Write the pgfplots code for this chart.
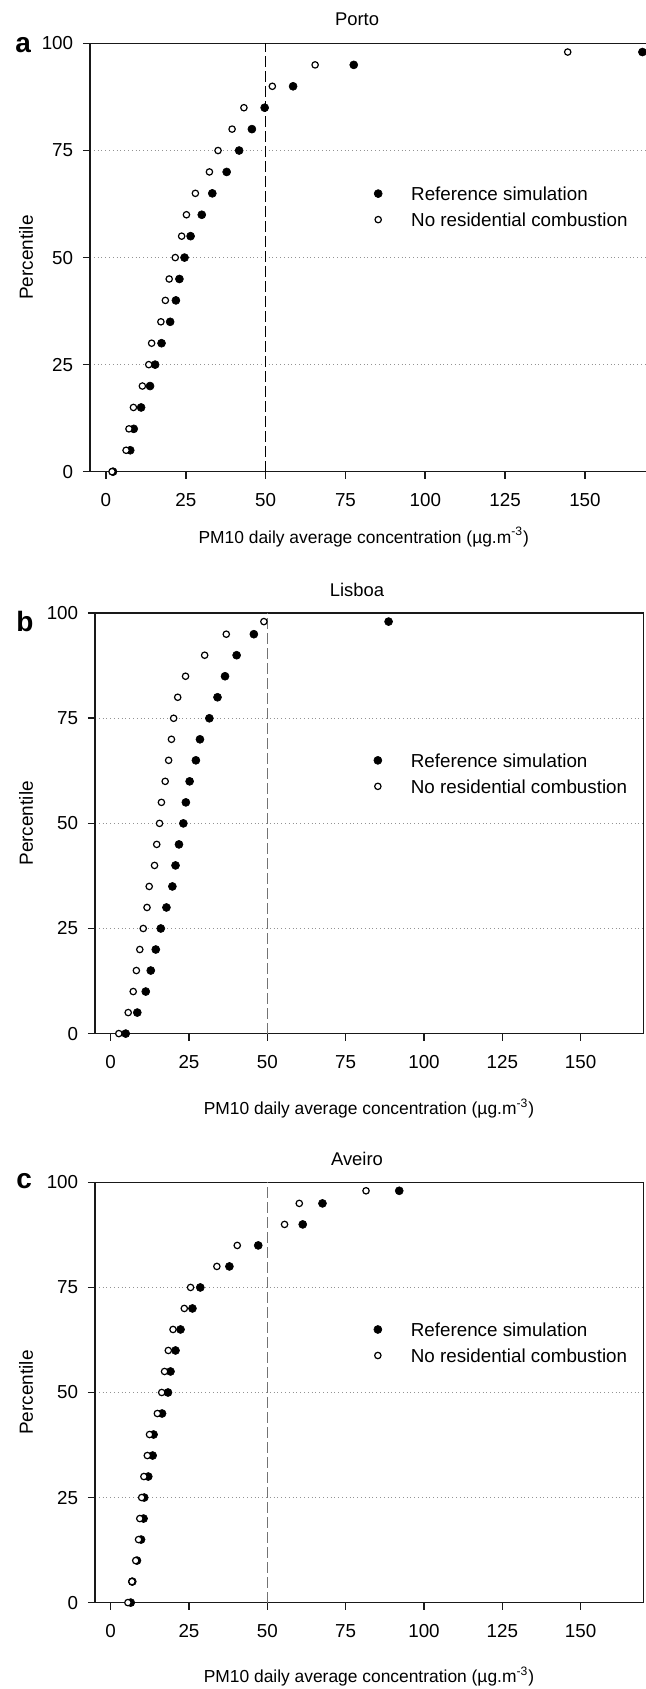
\documentclass[border=0pt]{standalone}
\usepackage{fontspec}
\setmainfont{Liberation Sans}
\usepackage{pgfplots}
\usepackage{pgfplotstable}
\pgfplotsset{compat=1.18}

% percentile, reference simulation, no residential combustion
\pgfplotstableread{
p ref no
0 2.2 1.9
5 7.6 6.3
10 8.7 7.2
15 11.0 8.6
20 13.8 11.4
25 15.4 13.4
30 17.4 14.3
35 20.1 17.2
40 21.9 18.6
45 23.0 19.8
50 24.6 21.7
55 26.5 23.7
60 30.0 25.2
65 33.3 28.0
70 37.8 32.4
75 41.7 35.1
80 45.7 39.5
85 49.7 43.2
90 58.6 52.1
95 77.6 65.5
98 168.0 144.6
}\porto

\pgfplotstableread{
p ref no
0 4.8 2.6
5 8.5 5.6
10 11.2 7.2
15 12.8 8.2
20 14.4 9.3
25 16.0 10.4
30 17.8 11.6
35 19.7 12.3
40 20.7 14.0
45 21.8 14.7
50 23.2 15.6
55 24.0 16.2
60 25.2 17.4
65 27.2 18.5
70 28.5 19.4
75 31.5 20.1
80 34.1 21.4
85 36.5 23.9
90 40.2 30.0
95 45.7 36.9
98 88.7 48.9
}\lisboa

\pgfplotstableread{
p ref no
0 6.4 5.5
5 6.9 6.8
10 8.4 8.0
15 9.7 8.9
20 10.5 9.3
25 10.7 9.9
30 12.0 10.6
35 13.4 11.7
40 13.7 12.4
45 16.4 14.9
50 18.3 16.3
55 19.1 17.2
60 20.7 18.4
65 22.3 19.9
70 26.1 23.5
75 28.6 25.5
80 37.9 33.9
85 47.1 40.4
90 61.3 55.5
95 67.6 60.2
98 92.1 81.5
}\aveiro

\newcommand{\tickfont}{\fontsize{9.4}{11}\selectfont}

\pgfplotsset{
  pct/.style={
    scale only axis,
    xmin=-5, xmax=170, ymin=0, ymax=100,
    xtick={0,25,50,75,100,125,150},
    ytick={0,25,50,75,100},
    tick align=outside, tick pos=left,
    major tick length=3.5pt,
    axis line style={line width=0.8pt, black!90},
    every tick/.style={line width=0.8pt, black!90},
    ymajorgrids,
    grid style={gray!85, line width=0.5pt, dash pattern=on 0.5pt off 1.4pt},
    /pgf/number format/assume math mode=true,
    tick label style={font=\tickfont},
    xticklabel style={yshift=-3.9pt},
    yticklabel style={xshift=-1.4pt},
    legend style={draw=none, fill=none, inner sep=0pt, outer sep=0pt,
      row sep=6pt, column sep=0pt, font=\tickfont,
      cells={anchor=west},
      nodes={inner sep=0pt, text height=7pt, text depth=0pt}},
    legend cell align=left,
    legend image code/.code={%
      \path[draw=none, fill=none] (-2pt,-2pt) rectangle (16.5pt,2pt);
      \draw[##1] plot coordinates {(0pt,0pt)};},
  },
  refp/.style={only marks, mark=*, mark size=2pt,
    mark options={fill=black, draw=black, line width=0.3pt}},
  nop/.style={only marks, mark=*, mark size=1.6pt,
    mark options={fill=white, draw=black, line width=0.6pt}},
}

\begin{document}
\begin{tikzpicture}
\useasboundingbox (0pt,0pt) rectangle (323pt,844.5pt);

% ---- a: Porto
\begin{axis}[pct, at={(45pt,608.65pt)}, anchor=south west,
  width=279.4pt, height=214.1pt,
  legend style={at={(axis cs:84,61.9)}, anchor=west}]
  \addplot[forget plot, black, line width=0.6pt, dash pattern=on 5.5pt off 2pt]
    coordinates {(50,0) (50,100)};
  \addplot[refp] table[x=ref, y=p] {\porto};
  \addplot[nop] table[x=no, y=p] {\porto};
  \legend{Reference simulation, No residential combustion}
\end{axis}

% ---- b: Lisboa
\begin{axis}[pct, at={(47.5pt,327.7pt)}, anchor=south west,
  width=274.15pt, height=210.2pt,
  legend style={at={(axis cs:84,61.9)}, anchor=west}]
  \addplot[forget plot, black!55, line width=0.6pt, dash pattern=on 5.5pt off 2pt]
    coordinates {(50,0) (50,100)};
  \addplot[refp] table[x=ref, y=p] {\lisboa};
  \addplot[nop] table[x=no, y=p] {\lisboa};
  \legend{Reference simulation, No residential combustion}
\end{axis}

% ---- c: Aveiro
\begin{axis}[pct, at={(47.5pt,43.2pt)}, anchor=south west,
  width=274.15pt, height=210.1pt,
  legend style={at={(axis cs:84,61.9)}, anchor=west}]
  \addplot[forget plot, black!55, line width=0.6pt, dash pattern=on 5.5pt off 2pt]
    coordinates {(50,0) (50,100)};
  \addplot[refp] table[x=ref, y=p] {\aveiro};
  \addplot[nop] table[x=no, y=p] {\aveiro};
  \legend{Reference simulation, No residential combustion}
\end{axis}

% titles, labels, panel letters
\begin{scope}[every node/.style={inner sep=0pt}]
  \node[anchor=base, font=\fontsize{9.2}{11}\selectfont] at (178.5pt,831.5pt) {Porto};
  \node[anchor=base, font=\fontsize{9.2}{11}\selectfont] at (178.5pt,546pt) {Lisboa};
  \node[anchor=base, font=\fontsize{9.2}{11}\selectfont] at (178.5pt,261.8pt) {Aveiro};

  \node[anchor=base, font=\fontsize{8.7}{11}\selectfont] at (181.9pt,572.85pt)
    {PM10 daily average concentration (µg.m\textsuperscript{-3})};
  \node[anchor=base, font=\fontsize{8.7}{11}\selectfont] at (184.5pt,287pt)
    {PM10 daily average concentration (µg.m\textsuperscript{-3})};
  \node[anchor=base, font=\fontsize{8.7}{11}\selectfont] at (184.5pt,3pt)
    {PM10 daily average concentration (µg.m\textsuperscript{-3})};

  \node[rotate=90, font=\fontsize{9.5}{11}\selectfont] at (13pt,715.7pt) {Percentile};
  \node[rotate=90, font=\fontsize{9.5}{11}\selectfont] at (13pt,432.8pt) {Percentile};
  \node[rotate=90, font=\fontsize{9.5}{11}\selectfont] at (13pt,148.25pt) {Percentile};

  \node[anchor=base west, font=\fontsize{14}{16}\selectfont\bfseries] at (7.5pt,818pt) {a};
  \node[anchor=base west, font=\fontsize{14}{16}\selectfont\bfseries] at (8pt,528.5pt) {b};
  \node[anchor=base west, font=\fontsize{14}{16}\selectfont\bfseries] at (8pt,250pt) {c};
\end{scope}
\end{tikzpicture}
\end{document}
